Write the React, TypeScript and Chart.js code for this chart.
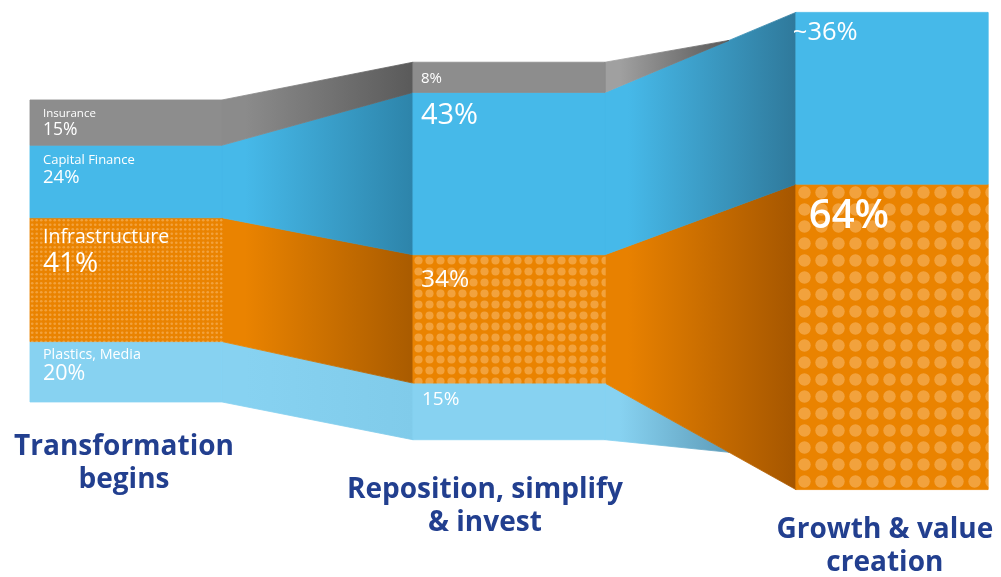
import React, { useEffect, useRef } from "react";
import { Chart, registerables } from "chart.js";

Chart.register(...registerables);

// ---------------- data ----------------
const stageTitles = [
  ["Transformation", "begins"],
  ["Reposition, simplify", "& invest"],
  ["Growth & value", "creation"],
];
const segmentNames = ["Insurance", "Capital Finance", "Infrastructure", "Plastics, Media"];
const stage1Values = [15, 24, 41, 20];
const stage2Values = [8, 43, 34, 15];
const stage3Values = [0, 36, 64, 0];
const stageSizes = [100, 125, 158]; // relative column size (stage 1 = 100)
const stage1Labels = ["15%", "24%", "41%", "20%"];
const stage2Labels = ["8%", "43%", "34%", "15%"];
const stage3Labels = ["", "~36%", "64%", ""];

const stageValues = [stage1Values, stage2Values, stage3Values];
const stageLabels = [stage1Labels, stage2Labels, stage3Labels];

// ---------------- styles ----------------
const HALF_WIDTH = 0.2507; // half column width, in stage units
const CENTER = 50;
const FADE_AT = 0.65; // where vanishing segments converge
const FONT = "'Open Sans', 'Noto Sans', sans-serif";
const TITLE_COLOR = "#223f8f";

const columnColors = ["#8d8d8d", "#46b9e9", "#ea8300", "#87d2f1"];
const connectorFrom = [
  ["#8b8b8b", "#46b9e9", "#ea8300", "#87d2f1"],
  ["#a0a0a0", "#46b9e9", "#e88100", "#87d2f1"],
];
const connectorTo = [
  ["#5a5a5a", "#2d84aa", "#a95b00", "#80cbea"],
  ["#585858", "#2f799b", "#a55600", "#5e9cb9"],
];
const dotPatterns = [
  { tile: 9, per: 2, r: 1.35 },
  { tile: 11, per: 1, r: 4.1 },
  { tile: 17, per: 1, r: 6.2 },
];
const nameStyle = [
  { size: 11.5, dy: 17 },
  { size: 13, dy: 19 },
  { size: 19.5, dy: 25.5 },
  { size: 14.3, dy: 17.5 },
];
const valueStyle: any[][] = [
  [
    { size: 17.5, dy: 35.5, dx: 13 },
    { size: 18.5, dy: 38, dx: 13 },
    { size: 28, dy: 54.5, dx: 13 },
    { size: 21.5, dy: 38.5, dx: 13 },
  ],
  [
    { size: 15, dy: 21, dx: 8 },
    { size: 29, dy: 32, dx: 8 },
    { size: 24.5, dy: 32, dx: 8 },
    { size: 19, dy: 21.5, dx: 9 },
  ],
  [null, { size: 25.5, dy: 27.5, dx: -3 }, { size: 40, dy: 44, dx: 13, weight: 600 }, null],
];
const titleStyle = [
  { dx: -2, dy: 53 },
  { dx: -24, dy: 58 },
  { dx: -7, dy: 48 },
];

// ---------------- geometry helpers (data units) ----------------
function stackBounds(values: number[], size: number) {
  let top = CENTER + size / 2;
  return values.map((v) => {
    const bottom = top - (v * size) / 100;
    const r = { top, bottom };
    top = bottom;
    return r;
  });
}

function makeDotPattern(cfg: { tile: number; per: number; r: number }) {
  const c = document.createElement("canvas");
  c.width = cfg.tile;
  c.height = cfg.tile;
  const g = c.getContext("2d")!;
  g.fillStyle = columnColors[2];
  g.fillRect(0, 0, cfg.tile, cfg.tile);
  g.fillStyle = "rgba(255, 214, 160, 0.38)";
  const step = cfg.tile / cfg.per;
  for (let i = 0; i < cfg.per; i++) {
    for (let j = 0; j < cfg.per; j++) {
      g.beginPath();
      g.arc(step * (i + 0.5), step * (j + 0.5), cfg.r, 0, Math.PI * 2);
      g.fill();
    }
  }
  return g.createPattern(c, "repeat")!;
}

export default function App() {
  const ref = useRef<HTMLCanvasElement | null>(null);

  useEffect(() => {
    document.body.style.margin = "0";
    const canvas = ref.current!;
    const bounds = stageValues.map((vals, s) => stackBounds(vals, stageSizes[s]));
    const patterns = dotPatterns.map(makeDotPattern);
    const datasets: any[] = [];

    const poly = (pts: { x: number; y: number }[], style: any) => {
      datasets.push({
        data: [...pts, pts[0]],
        fill: "shape",
        backgroundColor: style,
        borderColor: style,
        borderWidth: 0.8,
        pointRadius: 0,
        pointHoverRadius: 0,
        tension: 0,
      });
    };

    // columns
    stageValues.forEach((vals, s) => {
      vals.forEach((v, k) => {
        if (v <= 0) return;
        const b = bounds[s][k];
        const x0 = s - HALF_WIDTH;
        const x1 = s + HALF_WIDTH;
        let style: any = columnColors[k];
        if (k === 2) {
          const pat = patterns[s];
          style = (c: any) => {
            const xs = c.chart.scales.x;
            const ys = c.chart.scales.y;
            if (xs && ys && (pat as any).setTransform) {
              const px = xs.getPixelForValue(x0);
              const py = ys.getPixelForValue(b.top);
              if (isFinite(px) && isFinite(py)) {
                pat.setTransform(new DOMMatrix([1, 0, 0, 1, Math.round(px), Math.round(py)]));
              }
            }
            return pat;
          };
        }
        poly(
          [
            { x: x0, y: b.top },
            { x: x1, y: b.top },
            { x: x1, y: b.bottom },
            { x: x0, y: b.bottom },
          ],
          style
        );
      });
    });

    // connectors
    for (let s = 0; s < stageValues.length - 1; s++) {
      const xL = s + HALF_WIDTH;
      const xR = s + 1 - HALF_WIDTH;
      const next = stageValues[s + 1];
      const firstNonZero = next.findIndex((v) => v > 0);
      stageValues[s].forEach((v, k) => {
        if (v <= 0) return;
        const L = bounds[s][k];
        const R = bounds[s + 1][k];
        let pts: { x: number; y: number }[];
        let xEnd = xR;
        if (next[k] > 0) {
          pts = [
            { x: xL, y: L.top },
            { x: xR, y: R.top },
            { x: xR, y: R.bottom },
            { x: xL, y: L.bottom },
          ];
        } else {
          xEnd = xL + (xR - xL) * FADE_AT;
          const useBottom = k < firstNonZero;
          const y0 = useBottom ? L.bottom : L.top;
          const y1 = useBottom ? R.bottom : R.top;
          const p = { x: xEnd, y: y0 + (y1 - y0) * FADE_AT };
          pts = [{ x: xL, y: L.top }, p, { x: xL, y: L.bottom }];
        }
        const cFrom = connectorFrom[s][k];
        const cTo = connectorTo[s][k];
        const style = (c: any) => {
          const xs = c.chart.scales.x;
          if (!xs) return cFrom;
          const a = xs.getPixelForValue(xL);
          const b = xs.getPixelForValue(xEnd);
          if (!isFinite(a) || !isFinite(b)) return cFrom;
          const g = c.chart.ctx.createLinearGradient(a, 0, b, 0);
          g.addColorStop(0, cFrom);
          g.addColorStop(0.12, cFrom);
          g.addColorStop(1, cTo);
          return g;
        };
        poly(pts, style);
      });
    }

    const textPlugin = {
      id: "stageText",
      afterDatasetsDraw(chart: any) {
        const { ctx } = chart;
        const xs = chart.scales.x;
        const ys = chart.scales.y;
        ctx.save();
        ctx.textBaseline = "alphabetic";
        ctx.textAlign = "left";
        ctx.fillStyle = "#ffffff";
        // segment labels
        stageLabels.forEach((labels, s) => {
          const left = xs.getPixelForValue(s - HALF_WIDTH);
          labels.forEach((txt, k) => {
            if (!txt) return;
            const top = ys.getPixelForValue(bounds[s][k].top);
            if (s === 0) {
              const ns = nameStyle[k];
              ctx.font = `500 ${ns.size}px ${FONT}`;
              ctx.fillText(segmentNames[k], left + 13, top + ns.dy);
            }
            const vs = valueStyle[s][k];
            ctx.font = `${vs.weight || 500} ${vs.size}px ${FONT}`;
            ctx.fillText(txt, left + vs.dx, top + vs.dy);
          });
        });
        // stage titles
        ctx.textAlign = "center";
        ctx.fillStyle = TITLE_COLOR;
        ctx.font = `700 28px ${FONT}`;
        stageTitles.forEach((lines, s) => {
          const cx = xs.getPixelForValue(s) + titleStyle[s].dx;
          const base = ys.getPixelForValue(CENTER - stageSizes[s] / 2) + titleStyle[s].dy;
          lines.forEach((ln, i) => ctx.fillText(ln, cx, base + i * 33));
        });
        ctx.restore();
      },
    };

    const chart = new Chart(canvas, {
      type: "line",
      data: { datasets },
      options: {
        animation: false,
        responsive: false,
        events: [],
        layout: { padding: 0 },
        plugins: { legend: { display: false }, tooltip: { enabled: false } },
        scales: {
          x: { type: "linear", min: -0.329, max: 2.285, display: false },
          y: { type: "linear", min: -57.95, max: 133.1, display: false },
        },
      },
      plugins: [textPlugin],
    });
    return () => chart.destroy();
  }, []);

  return (
    <div style={{ width: 1001, height: 577, background: "#fff" }}>
      <canvas ref={ref} width={1001} height={577} style={{ display: "block" }} />
    </div>
  );
}
